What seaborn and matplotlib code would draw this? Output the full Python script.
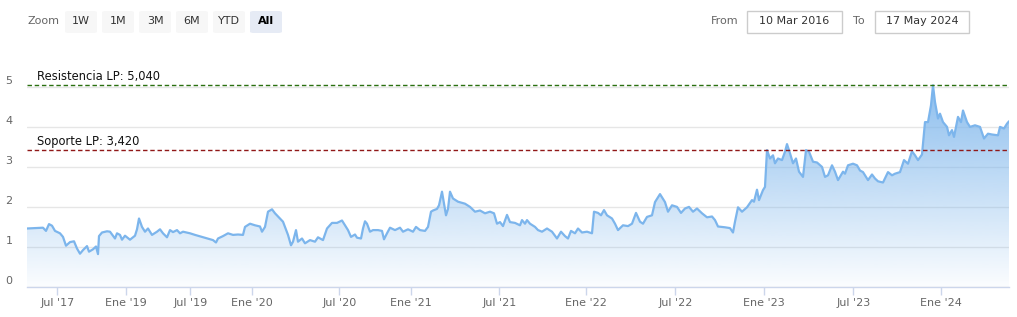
import numpy as np
import pandas as pd
import matplotlib
matplotlib.use("Agg")
import matplotlib.pyplot as plt
import seaborn as sns
from matplotlib.patches import FancyBboxPatch, Rectangle
from matplotlib.colors import to_rgb

# ---------------- data (ordinal session index -> price) ----------------
session = [0, 16, 19, 22, 25, 28, 33, 36, 39, 43, 47, 50, 53, 56, 60, 62, 66, 69, 71, 72,
           75, 80, 83, 88, 90, 93, 95, 98, 103, 108, 110, 112, 115, 118, 121, 125, 130, 133,
           136, 140, 143, 146, 150, 153, 156,
           163, 168, 175, 181, 186, 189, 191, 196, 201, 206, 211, 216, 218, 223, 228, 233,
           235, 238, 241, 245, 248, 253, 256, 258, 261, 264, 266, 269, 271, 275, 278, 283,
           288, 291, 296, 300, 305, 310, 315, 318, 321, 324, 328,
           330, 334, 336, 338, 340, 343, 346, 351, 355, 357, 360, 363, 368, 373, 376, 381,
           386, 389, 393, 398, 401, 404, 406, 410, 412, 415, 417, 419, 421, 423, 426, 431,
           438, 443, 448, 453, 458, 463, 467, 470, 473, 476, 480, 483, 488,
           493, 495, 498, 500, 503, 508, 511, 515, 520, 525, 530, 534, 538, 541, 544, 548,
           551, 555, 560, 565, 567, 571, 574, 577, 580, 585, 588, 591, 596, 601, 605, 609,
           613, 616, 620, 625, 628, 633, 638, 641, 645, 650, 654,
           658, 662, 666, 670, 675, 680, 685, 688, 691, 698, 703, 706, 708, 711, 715, 720,
           725, 727, 730, 732, 736, 738, 740, 743, 746, 748, 751, 755, 758, 760, 763, 766,
           769, 772, 776, 779, 782, 786, 790, 795, 798, 801, 805, 808, 811, 816,
           818, 821, 826, 830, 833, 836, 841, 845, 848, 851, 856, 861, 865, 868, 873, 877,
           881, 885, 888, 891, 895, 898, 901, 904, 906, 908, 911, 913, 916, 920, 922, 925,
           927, 931, 934, 936, 940, 943, 948, 953, 957, 961, 965, 971, 973, 977, 980, 982]
price = [1.45, 1.47, 1.39, 1.56, 1.52, 1.39, 1.33, 1.24, 1.02, 1.11, 1.13, 0.95, 0.82, 0.91,
         1.01, 0.87, 0.93, 1.00, 0.81, 1.26, 1.35, 1.38, 1.37, 1.20, 1.33, 1.29, 1.17, 1.27,
         1.17, 1.27, 1.43, 1.70, 1.49, 1.37, 1.45, 1.29, 1.37, 1.43, 1.33, 1.23, 1.41, 1.36,
         1.41, 1.33, 1.37,
         1.33, 1.29, 1.24, 1.20, 1.16, 1.10, 1.20, 1.26, 1.33, 1.29, 1.30, 1.29, 1.49, 1.57,
         1.53, 1.50, 1.37, 1.49, 1.87, 1.93, 1.83, 1.70, 1.62, 1.49, 1.29, 1.03, 1.12, 1.41,
         1.12, 1.20, 1.08, 1.16, 1.12, 1.23, 1.16, 1.45, 1.59, 1.59, 1.65, 1.53, 1.41, 1.24,
         1.30,
         1.22, 1.20, 1.45, 1.63, 1.57, 1.37, 1.41, 1.41, 1.39, 1.18, 1.33, 1.47, 1.41, 1.47,
         1.37, 1.43, 1.37, 1.49, 1.41, 1.39, 1.49, 1.87, 1.90, 1.94, 2.03, 2.37, 2.07, 1.78,
         1.94, 2.37, 2.20, 2.12, 2.07, 1.99, 1.87, 1.90, 1.83, 1.87, 1.83, 1.57, 1.61, 1.51,
         1.79, 1.61, 1.59,
         1.53, 1.66, 1.57, 1.66, 1.57, 1.49, 1.41, 1.37, 1.45, 1.37, 1.20, 1.37, 1.26, 1.20,
         1.39, 1.33, 1.45, 1.35, 1.37, 1.33, 1.87, 1.84, 1.78, 1.91, 1.78, 1.70, 1.57, 1.41,
         1.53, 1.51, 1.57, 1.84, 1.62, 1.57, 1.74, 1.78, 2.11, 2.31, 2.11, 1.87, 2.03, 1.99,
         1.84,
         1.95, 1.99, 1.87, 1.95, 1.83, 1.73, 1.75, 1.66, 1.50, 1.48, 1.46, 1.35, 1.62, 1.98,
         1.87, 1.98, 2.16, 2.12, 2.42, 2.16, 2.41, 2.49, 3.41, 3.20, 3.28, 3.08, 3.20, 3.16,
         3.37, 3.56, 3.33, 3.08, 3.20, 2.87, 2.74, 3.41, 3.37, 3.12, 3.10, 2.99, 2.74, 2.78,
         3.03, 2.87, 2.66, 2.87,
         2.82, 3.03, 3.07, 3.03, 2.90, 2.86, 2.66, 2.80, 2.70, 2.63, 2.60, 2.86, 2.78, 2.82,
         2.86, 3.16, 3.07, 3.38, 3.28, 3.16, 3.30, 4.11, 4.11, 4.53, 5.03, 4.61, 4.20, 4.32,
         4.11, 3.99, 3.78, 3.91, 3.74, 4.24, 4.11, 4.40, 4.11, 3.99, 4.03, 3.99, 3.70, 3.82,
         3.80, 3.78, 3.99, 3.95, 4.07, 4.13]
tick_sessions = [30.3, 99.3, 163.3, 225.3, 312.3, 384.3, 472.3, 558.7, 648.3, 737.3, 826.3, 914.3]
tick_labels = ["Jul '17", "Ene '19", "Jul '19", "Ene '20", "Jul '20", "Ene '21", "Jul '21",
               "Ene '22", "Jul '22", "Ene '23", "Jul '23", "Ene '24"]
y_ticks = [0, 1, 2, 3, 4, 5]
resistance = 5.040
support = 3.420
range_buttons = ["1W", "1M", "3M", "6M", "YTD", "All"]
date_from = "10 Mar 2016"
date_to = "17 May 2024"

df = pd.DataFrame({"session": session, "price": price})


def es_num(v):
    return f"{v:.3f}".replace(".", ",")


# ---------------- figure ----------------
sns.set_theme(style="white")
plt.rcParams['font.family'] = ['DejaVu Sans']
W, H = 1017, 317
fig = plt.figure(figsize=(W / 100, H / 100), dpi=100)
fig.patch.set_facecolor("white")


def fx(px):
    return px / W


def fy(py):
    return 1 - py / H


left_px, right_px, top_px, bottom_px = 27, 1009, 66, 286.5
px_per_unit = 40.0
ymax = (bottom_px - top_px) / px_per_unit
xmax = df.session.max()

ax = fig.add_axes([fx(left_px), fy(bottom_px), (right_px - left_px) / W, (bottom_px - top_px) / H])
ax.set_facecolor("none")

# gradient fill under the line
line_color = "#7cb5ec"
poly = ax.fill_between(df.session, 0, df.price, color="none", lw=0)
path = poly.get_paths()[0]
rgba = np.zeros((256, 1, 4))
rgba[..., :3] = to_rgb(line_color)
rgba[:, 0, 3] = np.linspace(0.95, 0.03, 256)
im = ax.imshow(rgba, extent=[0, xmax, 0, ymax], aspect="auto", origin="upper", zorder=1,
               interpolation="bilinear")
im.set_clip_path(path, transform=ax.transData)

sns.lineplot(data=df, x="session", y="price", ax=ax, color=line_color, lw=1.6, zorder=3)

ax.set_xlim(0, xmax)
ax.set_ylim(0, ymax)

# plot lines
ax.axhline(resistance, color="#2a7010", lw=1.0, ls=(0, (3.2, 2.0)), zorder=4)
ax.axhline(support, color="#901818", lw=1.0, ls=(0, (3.2, 2.0)), zorder=4)
ax.annotate(f"Resistencia LP: {es_num(resistance)}", xy=(0, resistance),
            xycoords=("axes fraction", "data"), xytext=(10, 2), textcoords="offset pixels",
            ha="left", va="bottom", fontsize=8.3, color="#111111", zorder=5)
ax.annotate(f"Soporte LP: {es_num(support)}", xy=(0, support),
            xycoords=("axes fraction", "data"), xytext=(10, 2), textcoords="offset pixels",
            ha="left", va="bottom", fontsize=8.3, color="#111111", zorder=5)

# axes styling
ax.set_yticks(y_ticks)
ax.set_yticklabels([str(v) for v in y_ticks])
ax.yaxis.grid(True, color="#e6e6e6", lw=1)
ax.xaxis.grid(False)
ax.set_axisbelow(True)
ax.tick_params(axis="y", length=0, pad=10.5, labelsize=8, labelcolor="#666666")
for lab in ax.get_yticklabels():
    lab.set_va("bottom")
ax.set_xticks(tick_sessions)
ax.set_xticklabels(tick_labels)
ax.tick_params(axis="x", length=6, width=1, color="#ccd6eb", direction="out", pad=2,
               labelsize=8, labelcolor="#666666", bottom=True)
ax.set_xlabel("")
ax.set_ylabel("")
for s in ["top", "right", "left"]:
    ax.spines[s].set_visible(False)
ax.spines["bottom"].set_color("#ccd6eb")
ax.spines["bottom"].set_linewidth(1)

# ---------------- toolbar ----------------
fig.text(fx(27), fy(21.5), "Zoom", ha="left", va="center", fontsize=8, color="#666666")
btn_x = [65, 102, 139, 176, 213, 250]
for bx, lab in zip(btn_x, range_buttons):
    sel = lab == "All"
    fig.patches.append(FancyBboxPatch((fx(bx), fy(33)), 32 / W, 22 / H,
                                      boxstyle="round,pad=0,rounding_size=0.004",
                                      transform=fig.transFigure,
                                      facecolor="#e6ebf5" if sel else "#f7f7f7",
                                      edgecolor="none"))
    fig.text(fx(bx + 16), fy(21.5), lab, ha="center", va="center", fontsize=8,
             color="#000000" if sel else "#333333", fontweight="bold" if sel else "normal")

fig.text(fx(711), fy(21.5), "From", ha="left", va="center", fontsize=8, color="#666666")
fig.text(fx(853), fy(21.5), "To", ha="left", va="center", fontsize=8, color="#666666")
for bx, bw, txt in [(747, 95, date_from), (875, 94, date_to)]:
    fig.patches.append(Rectangle((fx(bx), fy(32.5)), bw / W, 21.5 / H,
                                 transform=fig.transFigure, facecolor="white",
                                 edgecolor="#cccccc", lw=1))
    fig.text(fx(bx + bw / 2), fy(21.5), txt, ha="center", va="center", fontsize=8,
             color="#333333")

fig.savefig("out.png", dpi=100, facecolor="white")
